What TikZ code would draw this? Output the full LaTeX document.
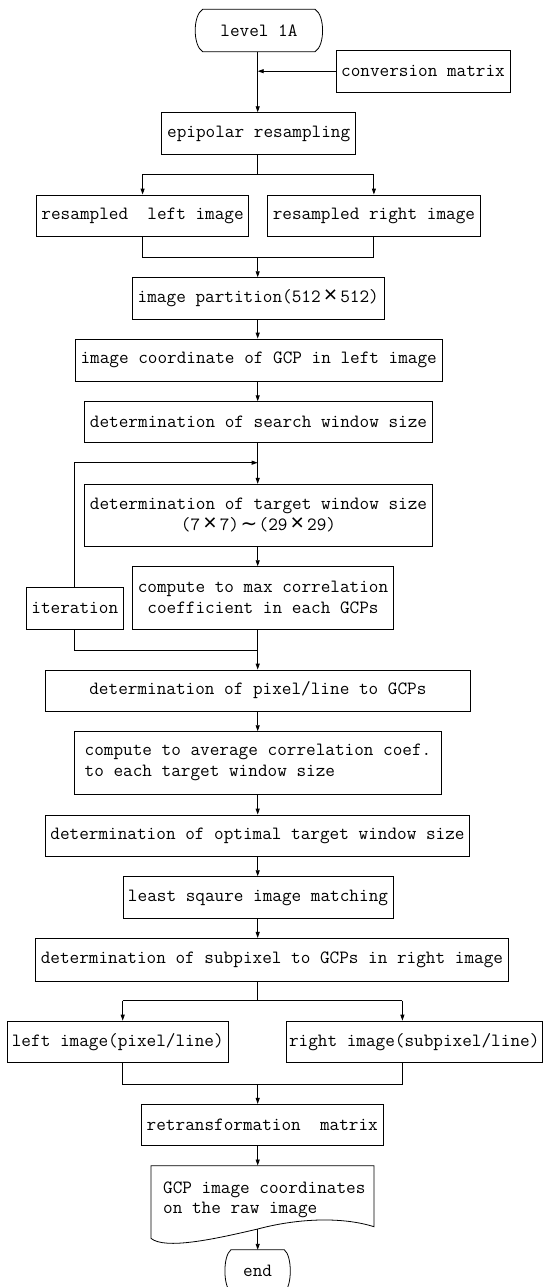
\documentclass[tikz,border=0pt]{standalone}
\usepackage{fontspec}
\newfontfamily\symfont{DejaVu Sans}
\newfontfamily\xfont{Liberation Sans}
\usetikzlibrary{arrows.meta,calc}
\newcommand\ft{\fontsize{18.7}{21}\selectfont\ttfamily\addfontfeatures{FakeBold=2.5}}
\newcommand\ftd{\fontsize{18.7}{20}\selectfont\ttfamily\addfontfeatures{FakeBold=2.5}}
\newcommand\wx{\makebox[1.05em]{{\xfont\fontsize{23}{20}\selectfont ×}}}
\newcommand\wt{\makebox[1.05em]{{\symfont\fontsize{20}{20}\selectfont ∼}}}
\tikzset{
  box/.style={draw, line width=0.8pt, inner sep=0pt, font=\ft, align=center},
  term/.style={inner sep=0pt, font=\ft, minimum height=42pt},
  ln/.style={line width=0.9pt},
  arr/.style={line width=0.9pt, -{Triangle[length=6pt,width=4pt]}}
}
\begin{document}
\begin{tikzpicture}[x={(1pt,0pt)}, y={(0pt,-1pt)}]
\useasboundingbox (0,0) rectangle (543,1287);
\clip (0,0) rectangle (543,1287);
\fill[white] (0,0) rectangle (543,1287);
\coordinate (ax) at (257.7,0);

% nodes
\node[term, minimum width=112pt] (start) at (258.9,30.5) {level 1A};
\node[box, minimum width=174pt, minimum height=42pt] (conv) at (423,71.2) {conversion matrix};
\node[box, minimum width=194pt, minimum height=41.6pt] (epi) at (258.7,133.5) {epipolar resampling};
\node[box, minimum width=211.8pt, minimum height=41.7pt] (resL) at (142.6,215.8) {resampled\ \ left image};
\node[box, minimum width=212.8pt, minimum height=41.7pt] (resR) at (373.9,215.8) {resampled right image};
\node[box, minimum width=252pt, minimum height=41.3pt] (part) at (258.3,298.3) {image partition(512\wx512)};
\node[box, minimum width=367pt, minimum height=42pt] (coord) at (258.7,360) {image coordinate of GCP in left image};
\node[box, minimum width=347.4pt, minimum height=41pt] (search) at (258.5,422.2) {determination of search window size};
\node[box, minimum width=347.4pt, minimum height=62.4pt] (target) at (258.5,515.5) {determination of target window size\\(7\wx7)\wt(29\wx29)};
\node[box, minimum width=261.4pt, minimum height=62.3pt] (cmax) at (263,597.8) {compute to max correlation\\coefficient in each GCPs};
\node[box, minimum width=96.2pt, minimum height=41.3pt] (iter) at (74.8,608.3) {iteration};
\node[box, minimum width=424.3pt, minimum height=41pt] (pix) at (257.9,690.5) {determination of pixel/line to GCPs};
\node[box, minimum width=367pt, minimum height=62.3pt, align=left] (cavg) at (258,762.8) {compute to average correlation coef.\\to each target window size};
\node[box, minimum width=423.5pt, minimum height=41.7pt] (opt) at (257.5,835.8) {determination of optimal target window size};
\node[box, minimum width=270pt, minimum height=41.7pt] (lsq) at (258,897.5) {least sqaure image matching};
\node[box, minimum width=472.3pt, minimum height=42.7pt] (sub) at (271.9,959.7) {determination of subpixel to GCPs in right image};
\node[box, minimum width=221pt, minimum height=41.3pt] (leftI) at (117.8,1041.7) {left image(pixel/line)};
\node[box, minimum width=255.5pt, minimum height=41.3pt] (rightI) at (414.2,1041.7) {right image(subpixel/line)};
\node[box, minimum width=242pt, minimum height=41.4pt] (retr) at (262.3,1125) {retransformation\ \ matrix};
\node[inner sep=0pt, font=\ftd, align=left, minimum width=223.4pt, minimum height=68.6pt] (doc) at (264.3,1200) {GCP image coordinates\\on the raw image};
\node[term, minimum width=53pt] (end) at (257.6,1271) {end};

% terminal and document outlines
\draw[line width=0.8pt] (start.north west) -- (start.north east)
  .. controls +(10,6) and +(10,-6) .. (start.south east) -- (start.south west)
  .. controls +(-10,-6) and +(-10,6) .. (start.north west) -- cycle;
\draw[line width=0.8pt] (end.north west) -- (end.north east)
  .. controls +(8,6) and +(8,-6) .. (end.south east) -- (end.south west)
  .. controls +(-8,-6) and +(-8,6) .. (end.north west) -- cycle;
\coordinate (dw) at (257.7,1229);
\draw[line width=0.8pt] (150.9,1238.3) -- (150.9,1165.7) -- (374,1165.7) -- (374,1226.7)
  .. controls (340,1216) and (295,1219) .. (dw)
  .. controls (215,1239) and (165,1250) .. (150.9,1238.3) -- cycle;

% connectors
\draw[arr] (start.south -| ax) -- (epi.north -| ax);
\draw[arr] (conv.west) -- (conv.west -| ax);
\coordinate (b1) at (257.7,174.5);
\draw[ln] (epi.south -| ax) -- (b1);
\draw[arr] (b1) -| (resL.north);
\draw[arr] (b1) -| (resR.north);
\coordinate (m1) at (257.7,257.3);
\draw[ln] (resL.south) |- (m1);
\draw[ln] (resR.south) |- (m1);
\draw[arr] (m1) -- (part.north -| ax);
\draw[arr] (part.south -| ax) -- (coord.north -| ax);
\draw[arr] (coord.south -| ax) -- (search.north -| ax);
\draw[arr] (search.south -| ax) -- (target.north -| ax);
\coordinate (lp) at (257.7,462.7);
\draw[arr] (iter.north) |- (lp);
\draw[arr] (target.south -| ax) -- (cmax.north -| ax);
\coordinate (m2) at (257.7,650);
\draw[ln] (iter.south) |- (m2);
\draw[arr] (cmax.south -| ax) -- (pix.north -| ax);
\draw[arr] (pix.south -| ax) -- (cavg.north -| ax);
\draw[arr] (cavg.south -| ax) -- (opt.north -| ax);
\draw[arr] (opt.south -| ax) -- (lsq.north -| ax);
\draw[arr] (lsq.south -| ax) -- (sub.north -| ax);
\coordinate (b2) at (257.7,1000.7);
\coordinate (bl) at (122.7,1000.7);
\coordinate (br) at (402.4,1000.7);
\draw[ln] (sub.south -| ax) -- (b2);
\draw[ln] (bl) -- (br);
\draw[arr] (bl) -- (bl |- leftI.north);
\draw[arr] (br) -- (br |- rightI.north);
\coordinate (ml) at (122.7,1084);
\coordinate (mr) at (402.4,1084);
\draw[ln] (ml |- leftI.south) -- (ml) -- (mr) -- (mr |- rightI.south);
\draw[arr] (ml -| ax) -- (retr.north -| ax);
\draw[arr] (retr.south -| ax) -- (doc.north -| ax);
\draw[arr] (dw) -- (end.north -| ax);
\end{tikzpicture}
\end{document}
